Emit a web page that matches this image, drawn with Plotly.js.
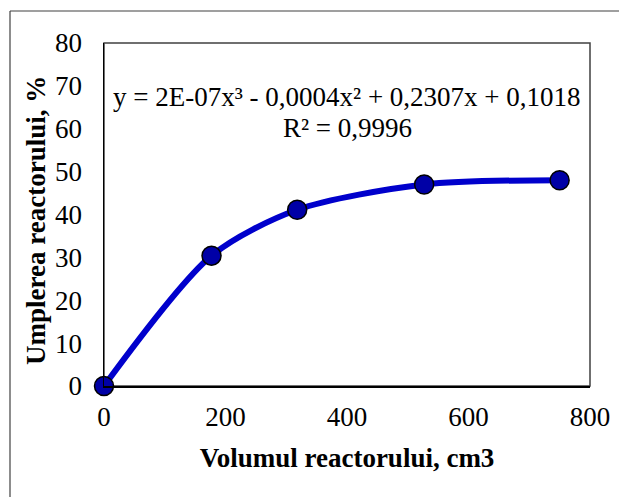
<!DOCTYPE html>
<html>
<head>
<meta charset="utf-8">
<script src="https://cdn.plot.ly/plotly-3.0.1.min.js"></script>
<style>
html,body{margin:0;padding:0;background:#fff;}
#chart{width:619px;height:497px;}
</style>
</head>
<body>
<div id="chart"></div>
<script>
// Data
const volume = [0, 177, 318, 527, 750];          // Volumul reactorului, cm3
const filling = [0, 30.4, 41.1, 47.0, 48.0];       // Umplerea reactorului, %
const xTicks = [0, 200, 400, 600, 800];
const yTicks = [0, 10, 20, 30, 40, 50, 60, 70, 80];
const equationText = "y = 2E-07x³ - 0,0004x² + 0,2307x + 0,1018";
const r2Text = "R² = 0,9996";
const xTitle = "Volumul reactorului, cm3";
const yTitle = "Umplerea reactorului, %";

const W = 619, H = 497;
const margin = {l: 104, r: 29, t: 43, b: 111};
const pw = W - margin.l - margin.r, ph = H - margin.t - margin.b;
const px = v => (v - margin.l) / pw;        // pixel x -> paper
const py = v => 1 - (v - margin.t) / ph;     // pixel y -> paper

const serif = "Liberation Serif";

const traces = [
  {
    x: volume, y: filling, type: 'scatter', mode: 'lines',
    line: {color: '#0000CC', width: 6, shape: 'spline', smoothing: 0.8},
    hoverinfo: 'skip', cliponaxis: false, showlegend: false
  },
  {
    x: volume, y: filling, type: 'scatter', mode: 'markers',
    marker: {size: 19, color: '#0000A6', line: {color: '#000000', width: 1.5}},
    cliponaxis: false, showlegend: false
  }
];

const layout = {
  width: W, height: H,
  margin: margin,
  paper_bgcolor: '#ffffff', plot_bgcolor: '#ffffff',
  font: {family: serif, color: '#000000'},
  showlegend: false,
  xaxis: {
    range: [0, 800], tickvals: xTicks, ticktext: xTicks.map(String),
    showgrid: false, zeroline: false,
    showline: true, linecolor: '#000000', linewidth: 1.5,
    ticks: '', ticklabelstandoff: 6,
    tickfont: {family: serif, size: 27, color: '#000000'},
    title: {text: '<b>' + xTitle + '</b>', font: {family: serif, size: 27, color: '#000000'}, standoff: 17}
  },
  yaxis: {
    range: [0, 80], tickvals: yTicks, ticktext: yTicks.map(String),
    showgrid: false, zeroline: false,
    showline: true, linecolor: '#000000', linewidth: 1.5,
    ticks: '', ticklabelstandoff: 15,
    tickfont: {family: serif, size: 27, color: '#000000'}
  },
  shapes: [
    {type: 'rect', xref: 'paper', yref: 'paper', x0: 0, x1: 1, y0: 0, y1: 1,
     line: {color: '#404040', width: 1.5}, layer: 'below'},
    {type: 'line', xref: 'paper', yref: 'paper', x0: px(10), x1: px(W + 5), y0: py(11), y1: py(11),
     line: {color: '#404040', width: 1.2}},
    {type: 'line', xref: 'paper', yref: 'paper', x0: px(10), x1: px(10), y0: py(11), y1: py(H + 5),
     line: {color: '#404040', width: 1.2}}
  ],
  annotations: [
    {xref: 'paper', yref: 'paper', x: px(347), y: py(97), text: equationText,
     showarrow: false, xanchor: 'center', yanchor: 'middle',
     font: {family: serif, size: 27, color: '#000000'}},
    {xref: 'paper', yref: 'paper', x: px(347), y: py(128), text: r2Text,
     showarrow: false, xanchor: 'center', yanchor: 'middle',
     font: {family: serif, size: 27, color: '#000000'}},
    {xref: 'paper', yref: 'paper', x: px(36), y: py(221), text: '<b>' + yTitle + '</b>',
     textangle: -90, showarrow: false, xanchor: 'center', yanchor: 'middle',
     font: {family: serif, size: 27, color: '#000000'}}
  ]
};

Plotly.newPlot('chart', traces, layout, {displayModeBar: false, staticPlot: true});
</script>
</body>
</html>
